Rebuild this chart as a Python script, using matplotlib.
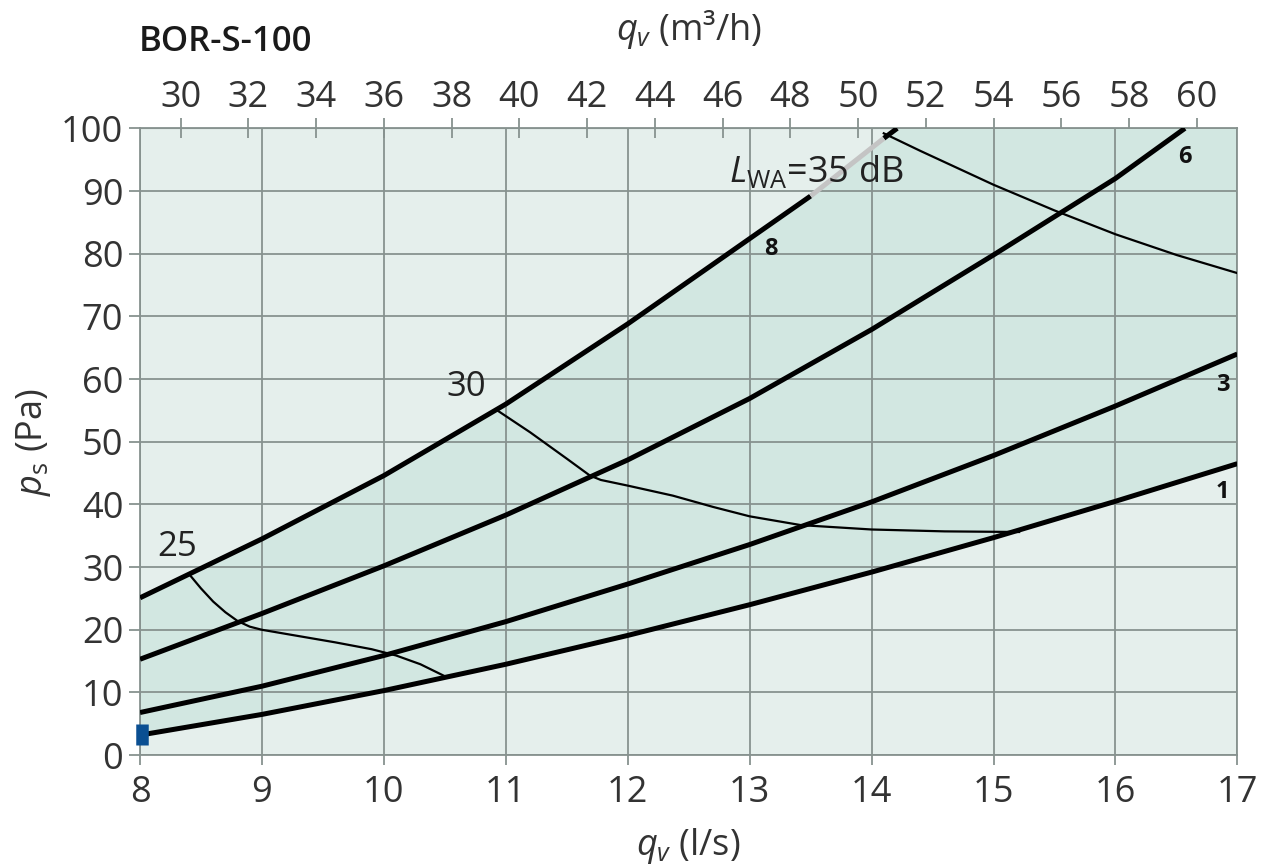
import numpy as np
import matplotlib
matplotlib.use("Agg")
import matplotlib.pyplot as plt

plt.rcParams['font.family'] = ['Open Sans', 'DejaVu Sans']
plt.rcParams['mathtext.fontset'] = 'custom'
plt.rcParams['mathtext.rm'] = 'Open Sans'
plt.rcParams['mathtext.it'] = 'Open Sans:italic'
plt.rcParams['mathtext.bf'] = 'Open Sans:bold'

# fan curves (q_v in l/s, p_s in Pa), speed steps 1, 3, 6, 8
q_1 = [8, 9, 10, 11, 12, 13, 14, 15, 16, 17]
p_1 = [3.2, 6.5, 10.3, 14.5, 19.1, 24.0, 29.2, 34.7, 40.5, 46.5]
q_3 = [8, 9, 10, 11, 12, 13, 14, 15, 16, 17]
p_3 = [6.8, 11.0, 15.9, 21.3, 27.3, 33.6, 40.4, 47.8, 55.7, 64.0]
q_6 = [8, 9, 10, 11, 12, 13, 14, 15, 16, 16.57]
p_6 = [15.3, 22.6, 30.2, 38.3, 47.1, 56.9, 67.9, 79.8, 92.0, 100.0]
q_8 = [8, 9, 10, 11, 12, 13, 13.5]
p_8 = [25.1, 34.5, 44.6, 56.0, 68.8, 82.4, 89.2]
q_8_grey = [13.5, 14.1]
p_8_grey = [89.2, 98.4]
q_8_end = [14.1, 14.21]
p_8_end = [98.4, 100.0]

# sound level curves L_WA
q_25 = [8.41, 8.5, 8.6, 8.7, 8.8, 8.9, 9.0, 9.3, 9.6, 9.9, 10.1, 10.3, 10.52]
p_25 = [28.7, 26.6, 24.5, 22.8, 21.4, 20.5, 20.0, 19.0, 18.0, 16.9, 15.9, 14.5, 12.4]
q_30 = [10.93, 11.2, 11.5, 11.69, 11.78, 12.0, 12.37, 12.7, 13.0, 13.42, 14.0, 14.6, 15.21]
p_30 = [55.0, 51.5, 47.3, 44.6, 43.9, 43.0, 41.4, 39.6, 38.1, 36.7, 36.0, 35.7, 35.6]
q_35 = [14.1, 14.4, 14.7, 15.0, 15.5, 16.0, 16.5, 17.0]
p_35 = [99.2, 96.4, 93.7, 91.0, 86.9, 83.1, 79.8, 76.9]

x_ticks = [8, 9, 10, 11, 12, 13, 14, 15, 16, 17]
y_ticks = [0, 10, 20, 30, 40, 50, 60, 70, 80, 90, 100]
top_ticks = list(range(30, 61, 2))

speed_labels = ['8', '6', '3', '1']
speed_label_q = [13.17, 16.57, 16.88, 16.88]
speed_label_p = [80.8, 95.5, 59.0, 42.0]

marker_q = 8.02
marker_p = [1.6, 4.9]

grid_col = '#87928f'
light = '#e5efec'
dark = '#d2e7e1'
text_col = '#333333'

fig = plt.figure(figsize=(12.73, 8.67), dpi=100)
ax = fig.add_axes([0.110, 0.129, 0.862, 0.723])
ax.set_xlim(8, 17)
ax.set_ylim(0, 100)
ax.set_facecolor(light)

# working area between speed 1 and speed 8 (capped at 100 Pa)
poly_q = q_1 + [17, 14.21] + q_8_end[::-1] + q_8_grey[::-1] + q_8[::-1]
poly_p = p_1 + [100, 100] + p_8_end[::-1] + p_8_grey[::-1] + p_8[::-1]
ax.fill(poly_q, poly_p, color=dark, lw=0, zorder=1)

ax.set_xticks(x_ticks)
ax.set_yticks(y_ticks)
ax.grid(True, color=grid_col, lw=1.3, zorder=2)
for s in ax.spines.values():
    s.set_color(grid_col)
    s.set_linewidth(1.3)
ax.tick_params(axis='both', colors=grid_col, labelcolor=text_col,
               labelsize=26, width=1.3)
ax.tick_params(axis='y', length=8, pad=4)
ax.tick_params(axis='x', length=7, pad=7)

lw_fan = 3.6
for q, p in [(q_1, p_1), (q_3, p_3), (q_6, p_6), (q_8, p_8), (q_8_end, p_8_end)]:
    ax.plot(q, p, color='black', lw=lw_fan, solid_capstyle='butt',
            solid_joinstyle='round', zorder=4)
ax.plot(q_8_grey, p_8_grey, color='#c4c4c4', lw=lw_fan, solid_capstyle='butt', zorder=4)

for q, p in [(q_25, p_25), (q_30, p_30), (q_35, p_35)]:
    ax.plot(q, p, color='black', lw=1.6, solid_joinstyle='round', zorder=3)

for t, q, p in zip(speed_labels, speed_label_q, speed_label_p):
    ax.text(q, p, t, fontsize=17, fontweight='bold', ha='center', va='center',
            color='#111111', zorder=5)

ax.text(8.47, 30.5, '25', fontsize=25, ha='right', va='bottom', color='#222222', zorder=5)
ax.text(10.84, 56.0, '30', fontsize=25, ha='right', va='bottom', color='#222222', zorder=5)
ax.text(12.83, 93.0, r'$\mathit{L}_{\mathrm{WA}}$=35 dB', fontsize=26, ha='left',
        va='center', color='#222222', zorder=5)

ax.plot([marker_q, marker_q], marker_p, color='#0a4f92', lw=9,
        solid_capstyle='butt', zorder=6, clip_on=False)

sec = ax.secondary_xaxis('top', functions=(lambda x: x * 3.6, lambda x: x / 3.6))
sec.set_xticks(top_ticks)
sec.spines['top'].set_color(grid_col)
sec.tick_params(axis='x', direction='inout', length=14, width=1.3, colors=grid_col,
                labelcolor=text_col, labelsize=26, pad=2)

ax.set_xlabel(r'$\mathit{q_v}$ (l/s)', fontsize=26, color=text_col, labelpad=11)
ax.set_ylabel(r'$\mathit{p}_{\mathrm{s}}$ (Pa)', fontsize=26, color=text_col, labelpad=6)
fig.text(0.541, 0.966, r'$\mathit{q_v}$ (m³/h)', fontsize=26, color=text_col,
         ha='center', va='center')
fig.text(0.109, 0.952, 'BOR-S-100', fontsize=25, fontweight='semibold',
         color='#1a1a1a', ha='left', va='center')

fig.savefig('out.png', dpi=100)
